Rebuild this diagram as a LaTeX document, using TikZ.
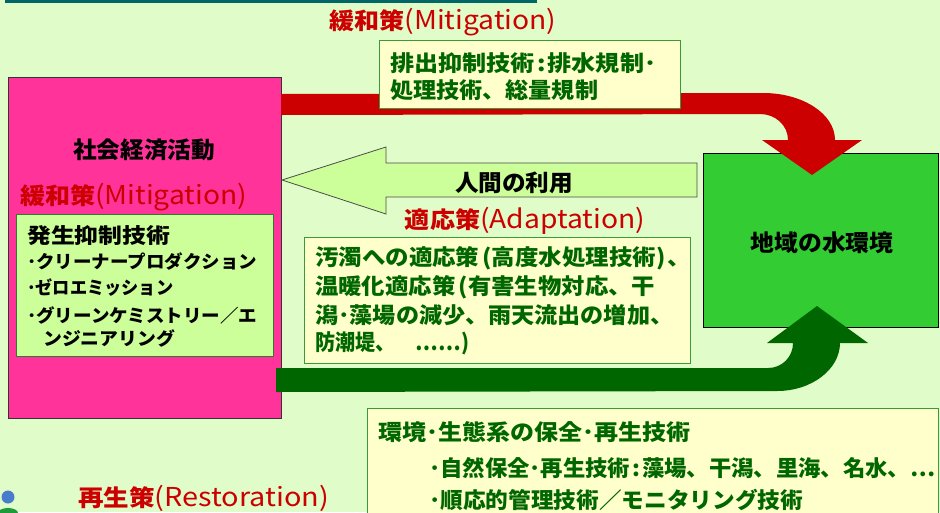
\documentclass[tikz,border=0pt]{standalone}
\usepackage{fontspec}
\usepackage{graphicx}
\newfontfamily\jp{Noto Sans CJK JP}[BoldFont={Noto Sans CJK JP Black}]
\newcommand{\fw}[2]{\resizebox{#1}{\height}{#2}}
\newcommand{\redlab}[3]{\fw{#1}{{\bfseries\fontsize{23}{23}\selectfont #2}{\fontsize{26}{26}\selectfont #3}}}
\definecolor{bg}{HTML}{E0FCC8}
\definecolor{tealbar}{HTML}{006666}
\definecolor{pinkbox}{HTML}{FF3399}
\definecolor{lgreen}{HTML}{CCFF99}
\definecolor{ybox}{HTML}{FFFFCC}
\definecolor{boxline}{HTML}{3A9A3A}
\definecolor{dkgreen}{HTML}{006600}
\definecolor{redc}{HTML}{CC0000}
\definecolor{envgreen}{HTML}{33CC33}
\definecolor{dotblue}{HTML}{4A7CCC}
\definecolor{mound}{HTML}{1E9A3C}
\tikzset{
  gtext/.style={font=\jp\bfseries\fontsize{22}{22}\selectfont, inner sep=0, anchor=west, text=dkgreen},
  ktext/.style={font=\jp\bfseries\fontsize{18}{18}\selectfont, inner sep=0, anchor=west, text=black},
  title/.style={font=\jp\bfseries\fontsize{23}{23}\selectfont, inner sep=0, text=black},
  redlabel/.style={font=\jp, inner sep=0, text=redc},
  ybx/.style={fill=ybox, draw=boxline, line width=1pt},
}
\begin{document}
\begin{tikzpicture}[x=1pt,y=-1pt]
\useasboundingbox (0,0) rectangle (940,512);
\fill[bg] (0,0) rectangle (940,512);
% teal bar
\fill[tealbar] (5,0) rectangle (537,3);
% top label
\node[redlabel] (mitTop) at (443,22) {\redlab{227pt}{緩和策}{(Mitigation)}};
% pink box
\node[draw=black!80, fill=pinkbox, line width=1pt, minimum width=273pt, minimum height=341pt, inner sep=0, anchor=north west] (socio) at (8,77) {};
\node[title] (socioT) at (144,150) {\fw{142pt}{社会経済活動}};
\node[redlabel, anchor=west] (mitIn) at (20,197) {\redlab{227pt}{緩和策}{(Mitigation)}};
\node[draw=boxline!80!black, fill=lgreen, line width=1pt, minimum width=257pt, minimum height=142pt, inner sep=0, anchor=north west] (genbox) at (16,214) {};
\node[ktext, font=\jp\bfseries\fontsize{21}{21}\selectfont] (g1) at (27,236) {\fw{143pt}{発生抑制技術}};
\node[ktext] (g2) at (27,262) {\fw{230pt}{･クリーナープロダクション}};
\node[ktext] (g3) at (27,288) {\fw{146pt}{･ゼロエミッション}};
\node[ktext] (g4) at (27,315) {\fw{230pt}{･グリーンケミストリー／エ}};
\node[ktext] (g5) at (43,338) {\fw{132pt}{ンジニアリング}};
% environment box
\node[draw=black, fill=envgreen, line width=1pt, minimum width=235pt, minimum height=174pt, inner sep=0, anchor=north west] (env) at (703,153) {};
\node[title] (envT) at (822,243) {\fw{143pt}{地域の水環境}};
% red curved arrow
\fill[redc] (281,94) -- (763,93) .. controls (803,93) and (835,114) .. (835,140)
  -- (862,140) -- (812,175) -- (762,140) -- (788,140)
  .. controls (788,125) and (775,114) .. (760,114) -- (281,115) -- cycle;
% top yellow box
\node[ybx, minimum width=301pt, minimum height=68pt, inner sep=0, anchor=north west] (emit) at (379,40) {};
\node[gtext] (e1) at (390,63) {\fw{266pt}{排出抑制技術\hspace{2pt}:\hspace{2pt}排水規制･}};
\node[gtext] (e2) at (390,90) {\fw{208pt}{処理技術、総量規制}};
% human use arrow
\draw[fill=lgreen, draw=black!70, line width=0.8pt] (282,180) -- (386,147) -- (386,163) -- (697,163) -- (697,197) -- (386,197) -- (386,214) -- cycle;
\node[title] (human) at (514,183) {\fw{118pt}{人間の利用}};
% adaptation
\node[redlabel] (adaptL) at (525,221) {\redlab{240pt}{適応策}{(Adaptation)}};
\node[ybx, minimum width=386pt, minimum height=126pt, inner sep=0, anchor=north west] (adapt) at (304,237) {};
\node[gtext] (a1) at (315,258) {\fw{376pt}{汚濁への適応策\hspace{3pt}(高度水処理技術)\hspace{2pt}、}};
\node[gtext] (a2) at (315,287) {\fw{340pt}{温暖化適応策\hspace{3pt}(有害生物対応、干}};
\node[gtext] (a3) at (315,315) {\fw{358pt}{潟･藻場の減少、雨天流出の増加、}};
\node[gtext] (a4) at (315,343) {\fw{154pt}{防潮堤、　……)}};
% green curved arrow
\fill[dkgreen] (276,368) -- (768,368) .. controls (782,368) and (793,357) .. (793,343)
  -- (767,343) -- (817,306) -- (868,343) -- (840,343)
  .. controls (840,369) and (812,391) .. (777,391) -- (276,392) -- cycle;
% bottom box
\node[ybx, minimum width=571pt, minimum height=120pt, inner sep=0, anchor=north west] (resto) at (367,408) {};
\node[gtext] (r1) at (378,432) {\fw{312pt}{環境･生態系の保全･再生技術}};
\node[gtext] (r2) at (429,468) {\fw{506pt}{･自然保全･再生技術\hspace{2pt}:\hspace{2pt}藻場、干潟、里海、名水、…}};
\node[gtext] (r3) at (429,500) {\fw{374pt}{･順応的管理技術／モニタリング技術}};
\node[redlabel, anchor=west] (restoL) at (78,498) {\redlab{251pt}{再生策}{(Restoration)}};
% icon
\fill[dotblue] (8,497) circle (6.5);
\fill[mound] (8,513) ellipse (10 and 5);
\end{tikzpicture}
\end{document}
